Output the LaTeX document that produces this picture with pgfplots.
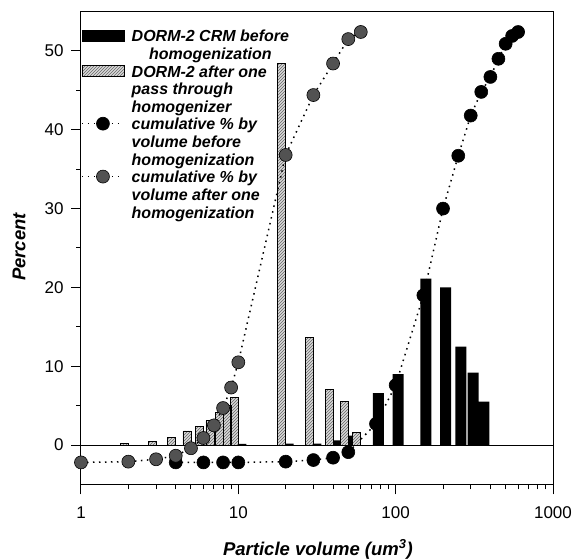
\documentclass[border=0pt]{standalone}
\usepackage{fontspec}
\setmainfont{Liberation Sans}
\usepackage{pgfplots}
\usepackage{pgfplotstable}
\pgfplotsset{compat=1.18}
\usetikzlibrary{patterns}

\pgfplotstableread{
x y
10 0.15
20 0.2
30 0.2
40 0.6
50 1.2
75 6.6
100 9.0
150 21.1
200 20.0
250 12.5
300 9.2
350 5.5
}\beforebars

\pgfplotstableread{
x y
2 0.2
3 0.5
4 1.0
5 1.8
6 2.4
7 3.1
8 4.1
9 5.0
10 6.0
20 48.4
30 13.7
40 7.1
50 5.5
60 1.6
}\afterbars

\pgfplotstableread{
x y
4 -2.2
6 -2.2
8 -2.2
10 -2.2
20 -2.1
30 -1.9
40 -1.6
50 -0.9
75 2.7
100 7.6
150 19.0
200 30.0
250 36.7
300 41.8
350 44.8
400 46.7
450 49.0
500 50.9
550 51.9
600 52.4
}\beforecum

\pgfplotstableread{
x y
1 -2.2
2 -2.1
3 -1.8
4 -1.35
5 -0.4
6 0.9
7 2.5
8 4.7
9 7.3
10 10.5
20 36.8
30 44.4
40 48.4
50 51.5
60 52.4
}\aftercum

\pgfplotsset{
  dotline/.style={black, line width=1.5pt, dash pattern=on 1.5pt off 4.5pt},
  blackmk/.style={mark=*, mark size=6.5pt, mark options={solid, fill=black, draw=black, line width=0.6pt}},
  graymk/.style={mark=*, mark size=6.5pt, mark options={solid, fill=black!68, draw=black, line width=0.6pt}},
  blackbar/.style={ybar, bar width=11pt, bar shift=2.5pt, fill=black, draw=none},
  hatchbar/.style={ybar, bar width=8pt, bar shift=-4pt, draw=black, line width=0.6pt, fill=black!15, postaction={pattern=north east lines, pattern color=black!60}},
  lineleg/.style={legend image code/.code={\draw[mark repeat=2, mark phase=2, ##1] plot coordinates {(0pt,-6.5pt) (21pt,-6.5pt) (42pt,-6.5pt)};}},
  blackbarleg/.style={legend image code/.code={\path[fill=black] (0pt,-1.5pt) rectangle (42pt,-12.5pt);}},
  hatchbarleg/.style={legend image code/.code={\path[draw=black, line width=0.6pt, fill=black!15, postaction={pattern=north east lines, pattern color=black!60}] (0pt,-1.5pt) rectangle (42pt,-12.5pt);}},
}

\begin{document}
\begin{tikzpicture}
\useasboundingbox (-81pt,-74.5pt) rectangle (495pt,484.5pt);
\begin{axis}[
  at={(0pt,0pt)}, anchor=south west,
  width=472pt, height=473pt, scale only axis,
  xmode=log, xmin=1, xmax=1000, ymin=-5, ymax=55,
  xtick={1,10,100,1000}, xticklabels={1,10,100,1000},
  ytick={0,10,20,30,40,50}, minor ytick={5,15,25,35,45},
  extra y ticks={0}, extra y tick labels={},
  extra y tick style={grid=major, major grid style={black, line width=0.8pt}},
  tick pos=left, tick align=outside,
  major tick length=10pt, minor tick length=5pt,
  every tick/.style={black, line width=1pt},
  axis line style={line width=1pt},
  /pgf/number format/assume math mode=true,
  ticklabel style={font=\fontsize{17}{17}\selectfont},
  xticklabel style={yshift=-8.5pt},
  yticklabel style={xshift=-4pt},
  clip=false,
  xlabel={Particle volume (um\textsuperscript{3})},
  ylabel={Percent},
  every axis x label/.style={at={(axis description cs:0.502,0)}, anchor=center, yshift=-65pt,
    font=\fontsize{18.5}{18.5}\selectfont\bfseries\itshape},
  every axis y label/.style={at={(axis description cs:-0.131,0.502)}, anchor=center, rotate=90,
    font=\fontsize{18.5}{18.5}\selectfont\bfseries\itshape},
  legend style={draw=none, fill=none, at={(axis description cs:0,1)}, anchor=north west,
    xshift=-3pt, yshift=-15.5pt, font=\fontsize{16}{17.8}\selectfont\bfseries\itshape,
    row sep=2pt, column sep=6pt, cells={anchor=north west},
    nodes={inner sep=1pt, align=left}},
]
\addplot[dotline, blackmk, forget plot] table[x=x, y=y] {\beforecum};
\addplot[blackbar, forget plot] table[x=x, y=y] {\beforebars};
\addplot[hatchbar, forget plot] table[x=x, y=y] {\afterbars};
\addplot[dotline, graymk, forget plot] table[x=x, y=y] {\aftercum};

\addlegendimage{blackbarleg}
\addlegendentry[align=center]{DORM-2 CRM before\\homogenization}
\addlegendimage{hatchbarleg}
\addlegendentry{DORM-2 after one\\pass through\\homogenizer}
\addlegendimage{dotline, blackmk, lineleg}
\addlegendentry{cumulative \% by\\volume before\\homogenization}
\addlegendimage{dotline, graymk, lineleg}
\addlegendentry{cumulative \% by\\volume after one\\homogenization}
\end{axis}
\end{tikzpicture}
\end{document}
